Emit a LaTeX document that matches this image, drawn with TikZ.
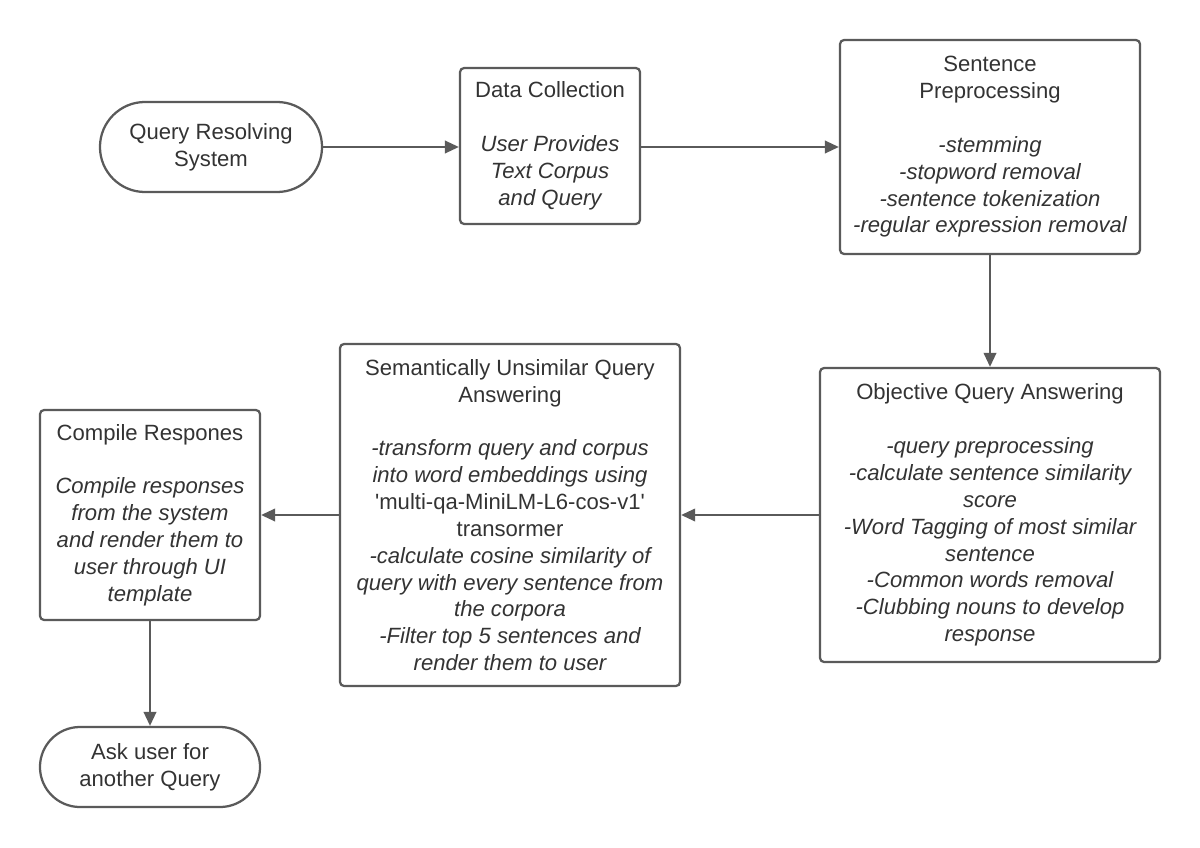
\documentclass[tikz,border=0pt]{standalone}
\usepackage{fontspec}
\setmainfont{Liberation Sans}
\usetikzlibrary{arrows.meta,shapes.misc}
\definecolor{edge}{HTML}{5A5A5A}
\definecolor{ink}{HTML}{333333}
\begin{document}
\begin{tikzpicture}[x=0.025cm,y=-0.025cm,
  box/.style={draw=edge,line width=1.6pt,rounded corners=3pt,align=center,text=ink,inner sep=0pt,
    font=\fontsize{15.7}{19.1}\selectfont},
  term/.style={draw=edge,line width=1.6pt,rounded rectangle,align=center,text=ink,inner sep=0pt,
    font=\fontsize{15.7}{19.1}\selectfont},
  link/.style={draw=edge,line width=1.4pt,-{Triangle[length=10pt,width=9pt]}}]
\useasboundingbox[fill=white] (0,0) rectangle (1200,847);
\node[term,minimum width=5.55cm,minimum height=2.25cm] (qrs) at (211,147) {Query Resolving\\System};
\node[box,minimum width=4.5cm,minimum height=3.9cm] (dc) at (550,146)
  {Data Collection\\[19.1pt]\itshape User Provides\\\itshape Text Corpus\\\itshape and Query};
\node[box,minimum width=7.5cm,minimum height=5.35cm] (sp) at (990,147)
  {Sentence\\Preprocessing\\[19.1pt]\itshape -stemming\\\itshape -stopword removal\\\itshape -sentence tokenization\\\itshape -regular expression removal};
\node[box,minimum width=8.5cm,minimum height=7.35cm] (oqa) at (990,515)
  {Objective Query Answering\\[19.1pt]\itshape -query preprocessing\\\itshape -calculate sentence similarity\\\itshape score\\\itshape -Word Tagging of most similar\\\itshape sentence\\\itshape -Common words removal\\\itshape -Clubbing nouns to develop\\\itshape response};
\node[box,minimum width=8.5cm,minimum height=8.55cm] (suq) at (510,515)
  {Semantically Unsimilar Query\\Answering\\[19.1pt]\itshape -transform query and corpus\\\itshape into word embeddings using\\\textquotesingle multi-qa-MiniLM-L6-cos-v1\textquotesingle\\transormer\\\itshape -calculate cosine similarity of\\\itshape query with every sentence from\\\itshape the corpora\\\itshape -Filter top 5 sentences and\\\itshape render them to user};
\node[box,minimum width=5.5cm,minimum height=5.25cm] (cr) at (150,515)
  {Compile Respones\\[19.1pt]\itshape Compile responses\\\itshape from the system\\\itshape and render them to\\\itshape user through UI\\\itshape template};
\node[term,minimum width=5.5cm,minimum height=2.0cm] (ask) at (150,767) {Ask user for\\another Query};
\draw[link] (qrs.east) -- (dc.west |- qrs.east);
\draw[link] (dc.east |- qrs.east) -- (sp.west |- qrs.east);
\draw[link] (sp.south) -- (oqa.north);
\draw[link] (oqa.west) -- (suq.east);
\draw[link] (suq.west) -- (cr.east);
\draw[link] (cr.south) -- (ask.north);
\end{tikzpicture}
\end{document}
